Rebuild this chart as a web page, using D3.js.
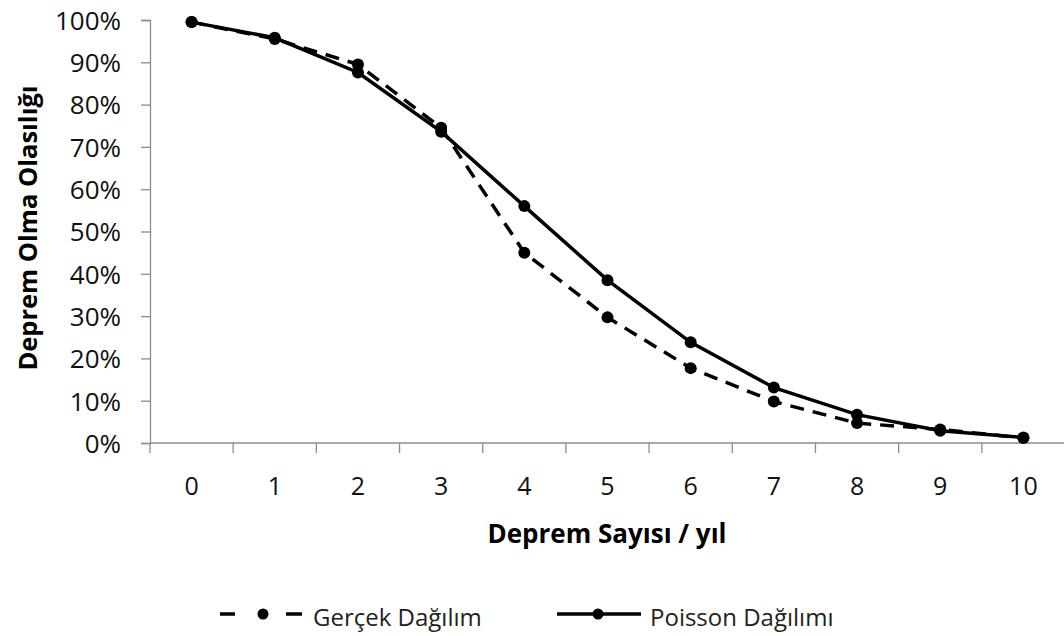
<!DOCTYPE html>
<html><head><meta charset="utf-8">
<script src="https://cdn.jsdelivr.net/npm/d3@7"></script>
<style>body{margin:0;background:#fff}svg{display:block}</style>
</head><body>
<svg id="c" width="1064" height="636"></svg>
<script>
const categories = ["0","1","2","3","4","5","6","7","8","9","10"];
const gercek = [0.995, 0.955, 0.895, 0.745, 0.45, 0.297, 0.177, 0.098, 0.047, 0.032, 0.012];
const poisson = [0.995, 0.958, 0.876, 0.736, 0.56, 0.385, 0.238, 0.131, 0.067, 0.029, 0.013];
const yTicks = [0,0.1,0.2,0.3,0.4,0.5,0.6,0.7,0.8,0.9,1.0];
const seriesNames = ["Gerçek Dağılım", "Poisson Dağılımı"];

const svg = d3.select("#c");
const font = "'Open Sans', sans-serif";
const L = 150, R = 1065, T = 20, B = 443;
const x = d3.scaleBand().domain(categories).range([L, R]);
const y = d3.scaleLinear().domain([0,1]).range([B, T]);
const axisColor = "#8c8c8c";

// y axis
const ya = svg.append("g").attr("transform",`translate(${L},0)`)
  .call(d3.axisLeft(y).tickValues(yTicks).tickFormat(d3.format(".0%")).tickSize(9).tickPadding(20));
ya.select(".domain").attr("stroke",axisColor).attr("stroke-width",1.3);
ya.selectAll(".tick line").attr("stroke",axisColor).attr("stroke-width",1.3);
ya.selectAll(".tick text").attr("font-family",font).attr("font-size",26).attr("fill","#111").attr("dy","0.36em");

// x axis
const xa = svg.append("g").attr("transform",`translate(0,${B})`)
  .call(d3.axisBottom(x).tickSize(0));
xa.select(".domain").remove();
xa.selectAll(".tick text").attr("font-family",font).attr("font-size",25).attr("fill","#111")
  .attr("y",52).attr("dy",0);
svg.append("line").attr("x1",L).attr("x2",1064).attr("y1",B).attr("y2",B)
  .attr("stroke",axisColor).attr("stroke-width",1.3);
const bounds = categories.map(c => x(c)).concat([x(categories[categories.length-1]) + x.bandwidth()]);
svg.append("g").selectAll("line").data(bounds).join("line")
  .attr("x1",d=>d).attr("x2",d=>d).attr("y1",B).attr("y2",B+10)
  .attr("stroke",axisColor).attr("stroke-width",1.3);

const cx = c => x(c) + x.bandwidth()/2;
const line = d3.line().x((d,i)=>cx(categories[i])).y(d=>y(d));

function drawSeries(vals, dashed){
  const g = svg.append("g");
  g.append("path").attr("d", line(vals)).attr("fill","none").attr("stroke","#000")
    .attr("stroke-width",3.5).attr("stroke-dasharray", dashed ? "14,9" : null);
  g.selectAll("circle").data(vals).join("circle")
    .attr("cx",(d,i)=>cx(categories[i])).attr("cy",d=>y(d)).attr("r",6).attr("fill","#000");
}
drawSeries(gercek, true);
drawSeries(poisson, false);

// axis titles
svg.append("text").attr("x",(L+1064)/2).attr("y",543).attr("text-anchor","middle")
  .attr("font-family",font).attr("font-weight","bold").attr("font-size",26).text("Deprem Sayısı  / yıl");
svg.append("text").attr("transform",`translate(37,228) rotate(-90)`).attr("text-anchor","middle")
  .attr("font-family",font).attr("font-weight","bold").attr("font-size",25.5).text("Deprem Olma Olasılığı");

// legend
const lg = svg.append("g");
const items = [{x0:220, x1:302, mx:263, tx:313, dashed:true, name:seriesNames[0]},
               {x0:557, x1:641, mx:598, tx:650, dashed:false, name:seriesNames[1]}];
items.forEach(it=>{
  if (it.dashed) {
    lg.append("line").attr("x1",it.x0).attr("x2",it.x0+15).attr("y1",614).attr("y2",614)
      .attr("stroke","#000").attr("stroke-width",3.5);
    lg.append("line").attr("x1",it.x1-16).attr("x2",it.x1).attr("y1",614).attr("y2",614)
      .attr("stroke","#000").attr("stroke-width",3.5);
  } else {
    lg.append("line").attr("x1",it.x0).attr("x2",it.x1).attr("y1",614).attr("y2",614)
      .attr("stroke","#000").attr("stroke-width",3.5);
  }
  lg.append("circle").attr("cx",it.mx).attr("cy",614).attr("r",5.5).attr("fill","#000");
  lg.append("text").attr("x",it.tx).attr("y",626).attr("font-family",font).attr("font-size",24).attr("fill","#222").text(it.name);
});
</script>
</body></html>
